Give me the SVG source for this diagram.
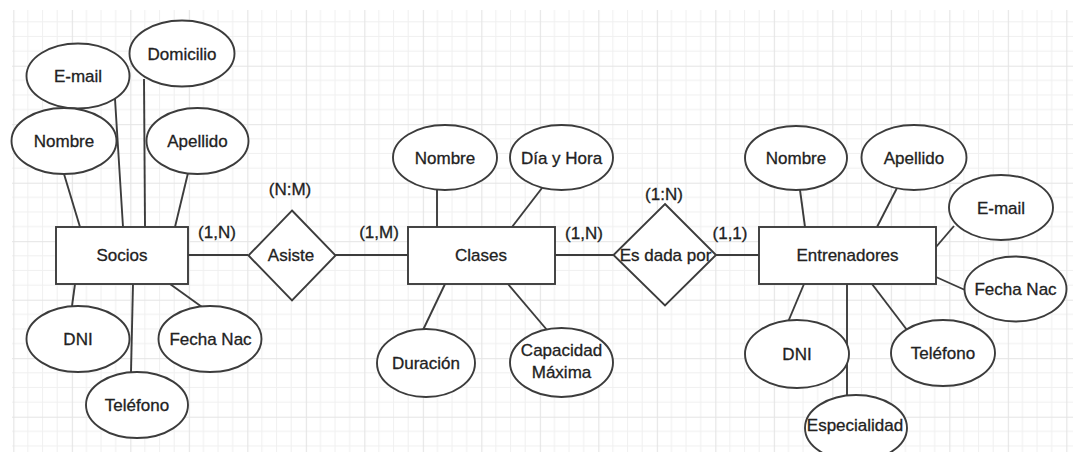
<svg xmlns="http://www.w3.org/2000/svg" width="1073" height="452" viewBox="0 0 1073 452">
<defs>
<pattern id="grid" patternUnits="userSpaceOnUse" x="13.3" y="7.2" width="58.5" height="58.5">
<path d="M14.625 0V58.5M29.25 0V58.5M43.875 0V58.5M0 14.625H58.5M0 29.25H58.5M0 43.875H58.5" stroke="#f0f0f0" stroke-width="1" fill="none"/>
<path d="M0.5 0V58.5M0 0.5H58.5" stroke="#e4e4e4" stroke-width="1.2" fill="none"/>
</pattern>
<style>
.shape{fill:#ffffff;stroke:#3c3c3c;stroke-width:1.9}
.ln{stroke:#3c3c3c;stroke-width:1.9;fill:none}
text{font-family:"Liberation Sans",Arial,sans-serif;font-size:17px;fill:#222222;stroke:#222222;stroke-width:0.3;text-anchor:middle}
</style>
</defs>
<rect width="1073" height="452" fill="#ffffff"/>
<rect x="12" y="10" width="1061" height="442" fill="url(#grid)"/>

<g id="connectors">
<line class="ln" x1="188" y1="255" x2="248" y2="255"/>
<line class="ln" x1="335" y1="255" x2="408" y2="255"/>
<line class="ln" x1="555" y1="255" x2="613" y2="255"/>
<line class="ln" x1="716" y1="255" x2="759" y2="255"/>
<line class="ln" x1="64" y1="174" x2="80" y2="227"/>
<line class="ln" x1="115" y1="99" x2="123" y2="227"/>
<line class="ln" x1="144" y1="79" x2="145" y2="227"/>
<line class="ln" x1="188" y1="173" x2="175" y2="227"/>
<line class="ln" x1="75" y1="284" x2="72" y2="306"/>
<line class="ln" x1="133" y1="284" x2="131" y2="372"/>
<line class="ln" x1="170" y1="284" x2="202" y2="307"/>
<line class="ln" x1="437" y1="190" x2="437" y2="227"/>
<line class="ln" x1="542" y1="188" x2="512" y2="227"/>
<line class="ln" x1="445" y1="284" x2="423" y2="330"/>
<line class="ln" x1="508" y1="284" x2="547" y2="330"/>
<line class="ln" x1="800" y1="190" x2="805" y2="227"/>
<line class="ln" x1="897" y1="188" x2="877" y2="227"/>
<line class="ln" x1="954" y1="226" x2="936" y2="247"/>
<line class="ln" x1="936" y1="277" x2="965" y2="290"/>
<line class="ln" x1="872" y1="284" x2="907" y2="330"/>
<line class="ln" x1="804" y1="284" x2="788" y2="322"/>
<line class="ln" x1="847" y1="284" x2="847" y2="395"/>
<text x="217" y="238">(1,N)</text>
<text x="290" y="195">(N:M)</text>
<text x="379" y="238">(1,M)</text>
<text x="584" y="239">(1,N)</text>
<text x="664" y="200">(1:N)</text>
<text x="730" y="239">(1,1)</text>
</g>

<g id="socios"><rect class="shape" x="56" y="227" width="132" height="57"/><text x="122" y="261">Socios</text></g>
<g id="socios-email"><ellipse class="shape" cx="78" cy="76" rx="51.5" ry="32.5"/><text x="78" y="82">E-mail</text></g>
<g id="socios-domicilio"><ellipse class="shape" cx="182" cy="53.5" rx="52.5" ry="33"/><text x="182" y="59.5">Domicilio</text></g>
<g id="socios-nombre"><ellipse class="shape" cx="64" cy="141" rx="52.5" ry="33"/><text x="64" y="147">Nombre</text></g>
<g id="socios-apellido"><ellipse class="shape" cx="197.5" cy="141" rx="51" ry="33"/><text x="197.5" y="147">Apellido</text></g>
<g id="socios-dni"><ellipse class="shape" cx="78" cy="339" rx="51.5" ry="33"/><text x="78" y="345">DNI</text></g>
<g id="socios-fechanac"><ellipse class="shape" cx="210" cy="339" rx="51.5" ry="33"/><text x="210.5" y="345">Fecha Nac</text></g>
<g id="socios-telefono"><ellipse class="shape" cx="137" cy="405" rx="51" ry="33"/><text x="137" y="411">Teléfono</text></g>

<g id="asiste"><polygon class="shape" points="292,210.5 335.5,255.5 292,300.5 248.5,255.5"/><text x="291" y="261">Asiste</text></g>

<g id="clases"><rect class="shape" x="408" y="227" width="147" height="57"/><text x="481" y="261">Clases</text></g>
<g id="clases-nombre"><ellipse class="shape" cx="445" cy="157.5" rx="52" ry="32.5"/><text x="445" y="163.5">Nombre</text></g>
<g id="clases-diahora"><ellipse class="shape" cx="561.5" cy="157.5" rx="51.5" ry="32.5"/><text x="561.5" y="163.5">Día y Hora</text></g>
<g id="clases-duracion"><ellipse class="shape" cx="426" cy="363" rx="49" ry="34"/><text x="426" y="369">Duración</text></g>
<g id="clases-capacidad"><ellipse class="shape" cx="561.5" cy="362.5" rx="51.5" ry="34.5"/><text x="561.5" y="356">Capacidad</text><text x="561.5" y="377.5">Máxima</text></g>

<g id="es-dada-por"><polygon class="shape" points="665,204 716,255 665,305.5 613.5,255"/><text x="665.5" y="261">Es dada por</text></g>

<g id="entrenadores"><rect class="shape" x="759" y="227" width="177" height="57"/><text x="847.5" y="261">Entrenadores</text></g>
<g id="entrenadores-nombre"><ellipse class="shape" cx="796" cy="158" rx="51" ry="32"/><text x="796" y="164">Nombre</text></g>
<g id="entrenadores-apellido"><ellipse class="shape" cx="914" cy="157.5" rx="52.5" ry="32.5"/><text x="914" y="163.5">Apellido</text></g>
<g id="entrenadores-email"><ellipse class="shape" cx="1001" cy="207.5" rx="52" ry="32.5"/><text x="1001" y="213.5">E-mail</text></g>
<g id="entrenadores-fechanac"><ellipse class="shape" cx="1015.5" cy="289" rx="51" ry="32.5"/><text x="1015.5" y="295">Fecha Nac</text></g>
<g id="entrenadores-telefono"><ellipse class="shape" cx="943" cy="353" rx="52" ry="33"/><text x="943" y="359">Teléfono</text></g>
<g id="entrenadores-dni"><ellipse class="shape" cx="797" cy="354" rx="52" ry="34"/><text x="797" y="360">DNI</text></g>
<g id="entrenadores-especialidad"><ellipse class="shape" cx="856" cy="428" rx="51" ry="33"/><text x="855" y="431">Especialidad</text></g>
</svg>
